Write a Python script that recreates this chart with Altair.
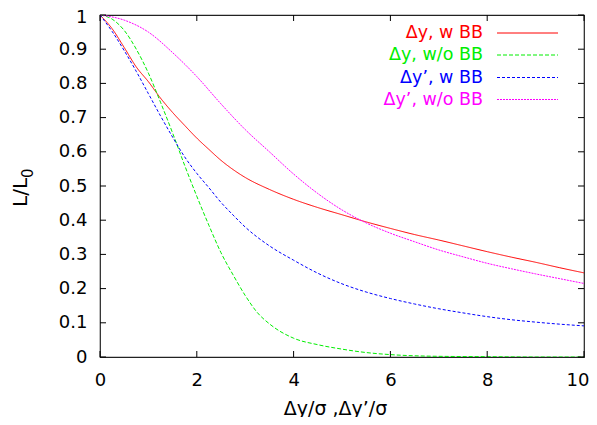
import altair as alt
import pandas as pd

# ---- data ----
series_names = ["Δy, w BB", "Δy, w/o BB", "Δy’, w BB", "Δy’, w/o BB"]
series_colors = ["#ff0000", "#00ee00", "#0000ff", "#ff00ff"]
series_dashes = [[1, 0], [4, 2], [3, 2], [2, 1]]

x_red = [0, 0.25, 0.5, 0.75, 1, 1.25, 1.5, 1.75, 2, 2.25, 2.5, 2.75, 3, 3.5, 4, 4.5, 5, 5.5, 6, 6.5, 7, 7.5, 8, 8.5, 9, 9.5, 10]
y_red = [1.0, 0.96, 0.905, 0.848, 0.805, 0.757, 0.715, 0.677, 0.64, 0.607, 0.575, 0.548, 0.525, 0.49, 0.461, 0.437, 0.416, 0.395, 0.376, 0.358, 0.342, 0.325, 0.308, 0.292, 0.277, 0.261, 0.246]

x_green = [0, 0.25, 0.5, 0.75, 1, 1.25, 1.5, 1.75, 2, 2.25, 2.5, 2.75, 3, 3.25, 3.5, 4, 4.5, 5, 5.5, 6, 7, 8, 9, 10]
y_green = [1.0, 0.988, 0.955, 0.9, 0.83, 0.745, 0.655, 0.56, 0.47, 0.385, 0.305, 0.24, 0.18, 0.13, 0.097, 0.055, 0.036, 0.023, 0.013, 0.007, 0.002, 0.001, 0.0, 0.0]

x_blue = [0, 0.25, 0.5, 0.75, 1, 1.25, 1.5, 1.75, 2, 2.25, 2.5, 2.75, 3, 3.5, 4, 4.5, 5, 5.5, 6, 6.5, 7, 7.5, 8, 8.5, 9, 9.5, 10]
y_blue = [1.0, 0.952, 0.896, 0.835, 0.77, 0.705, 0.643, 0.585, 0.537, 0.495, 0.452, 0.415, 0.38, 0.325, 0.283, 0.245, 0.214, 0.19, 0.171, 0.155, 0.141, 0.129, 0.118, 0.109, 0.102, 0.096, 0.091]

x_mag = [0, 0.5, 1, 1.5, 2, 2.5, 3, 3.5, 4, 4.5, 5, 5.5, 6, 6.5, 7, 7.5, 8, 8.5, 9, 9.5, 10]
y_mag = [1.0, 0.985, 0.95, 0.89, 0.82, 0.74, 0.665, 0.6, 0.535, 0.478, 0.43, 0.392, 0.362, 0.337, 0.313, 0.293, 0.274, 0.258, 0.243, 0.229, 0.215]

x_ticks = [0, 2, 4, 6, 8, 10]
y_ticks = [0, 0.1, 0.2, 0.3, 0.4, 0.5, 0.6, 0.7, 0.8, 0.9, 1.0]

x_title = "Δy/σ ,Δy’/σ"
y_title_main = "L/L"
y_title_sub = "0"

# ---- build table ----
rows = []
for name, xs, ys in zip(series_names, [x_red, x_green, x_blue, x_mag], [y_red, y_green, y_blue, y_mag]):
    for a, b in zip(xs, ys):
        rows.append({"x": a, "y": b, "series": name})
df = pd.DataFrame(rows)

W, H = 484, 342
FONT = "DejaVu Sans"
FS = 18
TL = 6

xscale = alt.Scale(domain=[0, 10], nice=False, zero=False)
yscale = alt.Scale(domain=[0, 1], nice=False, zero=False)

xaxis = alt.Axis(values=x_ticks, format="d", grid=False, domain=False, ticks=False,
                 labelFont=FONT, labelFontSize=FS, labelColor="black", labelPadding=14,
                 labelFlush=False, labelOverlap=False,
                 labelAlign={"condition": {"test": "datum.value == 10", "value": "right"}, "value": "center"},
                 labelOffset={"condition": {"test": "datum.value == 10", "value": 5}, "value": 0},
                 title=x_title, titleFont=FONT, titleFontSize=19, titleFontWeight="normal",
                 titleColor="black", titleX=235, titleY=57, titleBaseline="alphabetic",
                 titleAlign="center")
yaxis = alt.Axis(values=y_ticks, grid=False, domain=False, ticks=False,
                 labelFont=FONT, labelFontSize=FS, labelColor="black", labelPadding=13,
                 labelFlush=False, labelOverlap=False,
                 labelOffset={"condition": {"test": "datum.value == 1", "value": 2}, "value": 0},
                 labelExpr="datum.value == 0 || datum.value == 1 ? format(datum.value, 'd') : format(datum.value, '.1f')",
                 title=None)

lines = alt.Chart(df).mark_line(strokeWidth=1, clip=True, interpolate="monotone").encode(
    x=alt.X("x:Q", scale=xscale, axis=xaxis),
    y=alt.Y("y:Q", scale=yscale, axis=yaxis),
    color=alt.Color("series:N", scale=alt.Scale(domain=series_names, range=series_colors), legend=None),
    strokeDash=alt.StrokeDash("series:N", scale=alt.Scale(domain=series_names, range=series_dashes), legend=None),
    detail="series:N",
)

xt = pd.DataFrame({"x": x_ticks})
yt = pd.DataFrame({"y": y_ticks})
tick_bottom = alt.Chart(xt).mark_rule(color="black", strokeWidth=1).encode(
    x=alt.X("x:Q", scale=xscale, axis=xaxis), y=alt.value(H), y2=alt.value(H - TL))
tick_top = alt.Chart(xt).mark_rule(color="black", strokeWidth=1).encode(
    x=alt.X("x:Q", scale=xscale, axis=xaxis), y=alt.value(0), y2=alt.value(TL))
tick_left = alt.Chart(yt).mark_rule(color="black", strokeWidth=1).encode(
    y=alt.Y("y:Q", scale=yscale, axis=yaxis), x=alt.value(0), x2=alt.value(TL))
tick_right = alt.Chart(yt).mark_rule(color="black", strokeWidth=1).encode(
    y=alt.Y("y:Q", scale=yscale, axis=yaxis), x=alt.value(W - TL), x2=alt.value(W))

# y-axis title with a real subscript "0"
ytitle = pd.DataFrame({"t": [y_title_main]})
ysub = pd.DataFrame({"t": [y_title_sub]})
ytitle_mark = alt.Chart(ytitle).mark_text(angle=270, align="left", baseline="alphabetic",
                                          font=FONT, fontSize=20, color="black").encode(
    text="t:N", x=alt.value(-73), y=alt.value(192))
ysub_mark = alt.Chart(ysub).mark_text(angle=270, align="left", baseline="alphabetic",
                                      font=FONT, fontSize=15, color="black").encode(
    text="t:N", x=alt.value(-67), y=alt.value(163))

# ---- manual gnuplot-style key (text left, sample right) ----
layers = [lines, tick_bottom, tick_top, tick_left, tick_right, ytitle_mark, ysub_mark]
row_y = [18, 40, 62.5, 84.5]
for i, (name, col, dash) in enumerate(zip(series_names, series_colors, series_dashes)):
    one = pd.DataFrame({"label": [name]})
    layers.append(alt.Chart(one).mark_text(align="right", baseline="middle", font=FONT,
                                           fontSize=17.5, color=col).encode(
        text="label:N", x=alt.value(383), y=alt.value(row_y[i])))
    layers.append(alt.Chart(one).mark_rule(color=col, strokeWidth=1, strokeDash=dash).encode(
        x=alt.value(397), x2=alt.value(458), y=alt.value(row_y[i])))

chart = alt.layer(*layers).properties(
    width=W, height=H,
    autosize=alt.AutoSizeParams(type="none"),
    padding={"left": 92, "top": 7, "right": 5, "bottom": 60},
    background="white",
).configure_view(stroke="#222222", strokeWidth=1.2).configure_axis(labelOverlap=False)

chart.save("out.html", embed_options={"renderer": "svg", "actions": False})
